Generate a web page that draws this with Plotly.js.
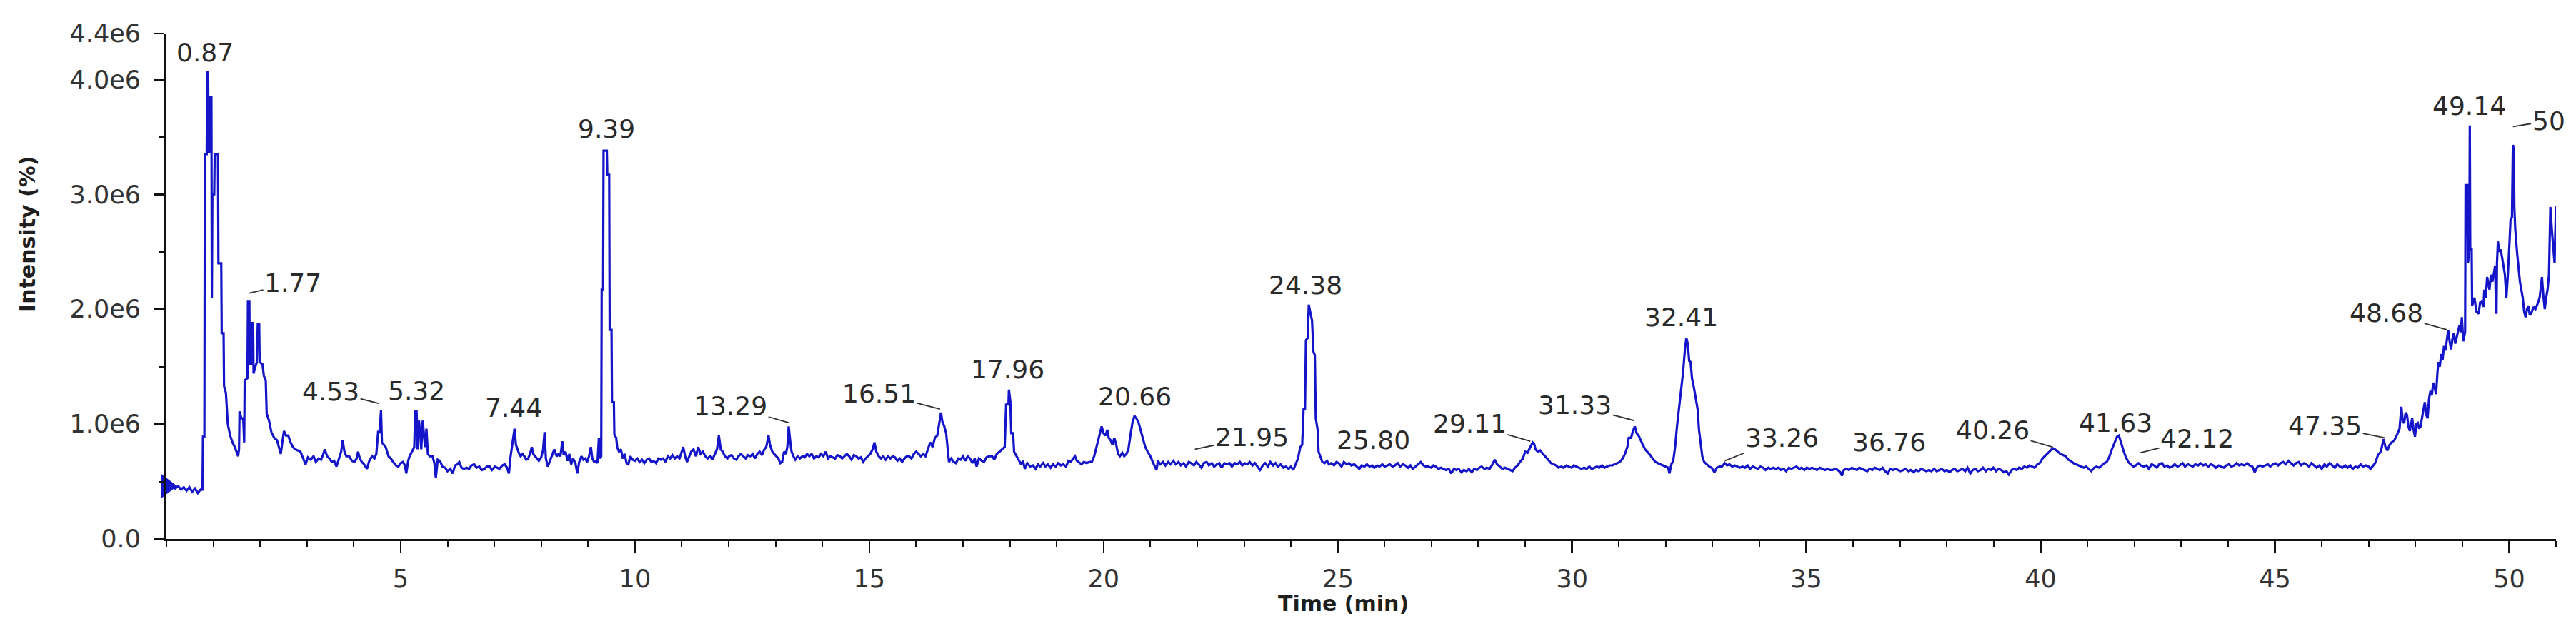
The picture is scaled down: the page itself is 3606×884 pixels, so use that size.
<!DOCTYPE html>
<html>
<head>
<meta charset="utf-8">
<script src="https://cdn.plot.ly/plotly-3.0.1.min.js"></script>
<style>
html,body{margin:0;padding:0;background:#fff}
#chart{width:3606px;height:884px}
</style>
</head>
<body>
<div id="chart"></div>
<script>
// chromatogram: [time (min), intensity (x1e6)]
let chromatogram = [
  [0.00,0.46],[0.07,0.45],[0.13,0.47],[0.19,0.44],[0.25,0.46],[0.31,0.43],[0.37,0.45],[0.43,0.42],[0.49,0.45],[0.55,0.41],[0.61,0.44],[0.67,0.40],[0.73,0.43],[0.77,0.43],[0.78,0.89],[0.81,0.89],[0.82,3.35],[0.86,3.35],[0.87,4.06],[0.89,4.06],[0.90,3.37],[0.92,3.37],[0.93,3.85],[0.96,3.85],[0.97,2.10],[0.98,3.00],
  [1.02,3.00],[1.03,3.35],[1.10,3.35],[1.11,2.40],[1.17,2.40],[1.18,1.79],[1.22,1.79],[1.23,1.33],[1.27,1.27],[1.31,1.00],[1.36,0.90],[1.41,0.84],[1.46,0.80],[1.50,0.76],[1.53,0.72],[1.55,0.78],[1.56,1.11],[1.60,1.05],[1.64,1.05],[1.66,0.84],[1.67,1.38],[1.73,1.40],[1.74,2.07],[1.77,2.07],[1.78,1.52],[1.81,1.52],[1.82,1.88],[1.85,1.88],[1.86,1.44],[1.90,1.50],[1.93,1.54],[1.95,1.87],[1.98,1.87],[1.99,1.54],
  [2.05,1.52],[2.08,1.42],[2.12,1.38],[2.14,1.09],[2.19,1.03],[2.24,0.93],[2.30,0.88],[2.36,0.86],[2.40,0.80],[2.44,0.74],[2.48,0.86],[2.51,0.94],[2.55,0.90],[2.60,0.90],[2.65,0.84],[2.70,0.80],[2.75,0.78],[2.80,0.77],[2.86,0.76],[2.92,0.70],[2.97,0.65],
  [3.02,0.71],[3.08,0.69],[3.14,0.72],[3.19,0.67],[3.25,0.70],[3.30,0.69],[3.35,0.74],[3.38,0.78],[3.43,0.72],[3.48,0.70],[3.53,0.67],[3.58,0.68],[3.63,0.63],[3.68,0.70],[3.73,0.76],[3.76,0.86],[3.80,0.76],[3.84,0.72],[3.90,0.72],[3.96,0.68],
  [4.01,0.67],[4.06,0.70],[4.09,0.76],[4.13,0.70],[4.17,0.67],[4.22,0.65],[4.28,0.61],[4.33,0.68],[4.39,0.72],[4.44,0.70],[4.48,0.74],[4.52,0.94],[4.55,0.92],[4.58,1.12],[4.60,0.84],[4.64,0.82],[4.68,0.80],[4.74,0.72],[4.79,0.70],[4.84,0.67],[4.90,0.64],[4.95,0.63],[5.00,0.66],
  [5.05,0.67],[5.09,0.64],[5.12,0.57],[5.16,0.68],[5.19,0.72],[5.24,0.76],[5.29,0.80],[5.31,1.11],[5.34,1.11],[5.36,0.78],[5.39,1.03],[5.42,0.90],[5.44,0.78],[5.47,1.03],[5.50,0.85],[5.52,0.80],[5.55,0.96],[5.58,0.74],[5.62,0.72],[5.68,0.72],[5.72,0.66],[5.75,0.53],[5.79,0.69],[5.84,0.68],[5.89,0.63],[5.95,0.62],
  [6.00,0.59],[6.06,0.61],[6.11,0.57],[6.16,0.64],[6.21,0.65],[6.25,0.67],[6.30,0.62],[6.35,0.61],[6.41,0.62],[6.46,0.61],[6.51,0.64],[6.57,0.65],[6.62,0.62],[6.68,0.63],[6.73,0.60],[6.79,0.61],[6.84,0.63],[6.90,0.63],[6.95,0.60],
  [7.01,0.63],[7.06,0.62],[7.11,0.61],[7.17,0.64],[7.22,0.65],[7.27,0.62],[7.31,0.57],[7.34,0.70],[7.37,0.78],[7.41,0.90],[7.43,0.96],[7.46,0.82],[7.49,0.78],[7.53,0.74],[7.56,0.72],[7.60,0.74],[7.64,0.72],[7.68,0.69],[7.72,0.70],[7.76,0.74],[7.80,0.80],[7.83,0.74],[7.87,0.72],[7.91,0.70],[7.95,0.68],
  [8.00,0.71],[8.04,0.78],[8.07,0.93],[8.10,0.70],[8.14,0.63],[8.19,0.68],[8.24,0.74],[8.28,0.78],[8.33,0.72],[8.37,0.74],[8.41,0.72],[8.45,0.85],[8.48,0.73],[8.52,0.76],[8.56,0.68],[8.60,0.74],[8.64,0.65],[8.68,0.70],[8.73,0.66],[8.77,0.57],[8.81,0.67],[8.86,0.72],[8.90,0.69],[8.94,0.70],[8.98,0.67],
  [9.02,0.72],[9.06,0.80],[9.09,0.70],[9.13,0.67],[9.17,0.68],[9.20,0.66],[9.23,0.88],[9.26,0.70],[9.28,0.72],[9.29,2.17],[9.32,2.17],[9.33,3.38],[9.40,3.38],[9.41,3.17],[9.45,3.17],[9.46,1.82],[9.50,1.82],[9.51,1.19],[9.55,1.19],[9.56,0.91],[9.60,0.88],[9.62,0.80],[9.66,0.76],[9.70,0.78],[9.74,0.70],[9.78,0.74],[9.82,0.66],[9.86,0.65],[9.90,0.72],[9.95,0.69],
  [10.00,0.68],[10.05,0.70],[10.10,0.67],[10.15,0.69],[10.20,0.66],[10.25,0.69],[10.30,0.70],[10.35,0.67],[10.40,0.68],[10.45,0.66],[10.50,0.70],[10.55,0.69],[10.60,0.70],[10.65,0.67],[10.70,0.72],[10.75,0.70],[10.80,0.73],[10.85,0.70],[10.90,0.72],[10.95,0.70],
  [11.00,0.76],[11.03,0.80],[11.07,0.72],[11.11,0.67],[11.16,0.72],[11.20,0.76],[11.25,0.78],[11.30,0.72],[11.35,0.80],[11.40,0.74],[11.45,0.76],[11.50,0.72],[11.55,0.70],[11.60,0.72],[11.65,0.69],[11.70,0.74],[11.75,0.78],[11.79,0.90],[11.83,0.78],[11.87,0.76],[11.92,0.72],[11.97,0.70],
  [12.01,0.72],[12.06,0.73],[12.11,0.70],[12.16,0.69],[12.21,0.72],[12.26,0.74],[12.31,0.72],[12.36,0.70],[12.41,0.73],[12.46,0.72],[12.51,0.74],[12.56,0.70],[12.61,0.74],[12.66,0.76],[12.71,0.73],[12.76,0.78],[12.80,0.80],[12.85,0.90],[12.88,0.82],[12.93,0.76],[12.97,0.74],
  [13.01,0.72],[13.06,0.70],[13.10,0.66],[13.14,0.67],[13.18,0.76],[13.22,0.74],[13.25,0.80],[13.28,0.98],[13.31,0.86],[13.34,0.76],[13.38,0.72],[13.42,0.69],[13.47,0.72],[13.52,0.70],[13.57,0.72],[13.62,0.71],[13.67,0.74],[13.72,0.72],[13.77,0.74],[13.82,0.70],[13.87,0.72],[13.92,0.71],[13.97,0.74],
  [14.02,0.72],[14.07,0.76],[14.12,0.70],[14.17,0.72],[14.22,0.71],[14.27,0.70],[14.32,0.73],[14.37,0.72],[14.42,0.70],[14.47,0.72],[14.52,0.74],[14.57,0.72],[14.62,0.69],[14.67,0.73],[14.72,0.72],[14.77,0.70],[14.82,0.71],[14.87,0.67],[14.92,0.70],[14.97,0.72],
  [15.02,0.74],[15.07,0.78],[15.11,0.84],[15.15,0.76],[15.20,0.72],[15.25,0.70],[15.30,0.72],[15.35,0.69],[15.40,0.72],[15.45,0.70],[15.50,0.72],[15.55,0.71],[15.60,0.68],[15.65,0.70],[15.70,0.67],[15.75,0.70],[15.80,0.72],[15.85,0.72],[15.90,0.70],[15.95,0.74],
  [16.00,0.76],[16.05,0.74],[16.10,0.72],[16.15,0.74],[16.20,0.72],[16.25,0.78],[16.30,0.84],[16.35,0.80],[16.40,0.88],[16.45,0.90],[16.50,1.02],[16.53,1.10],[16.56,1.02],[16.60,0.98],[16.64,0.92],[16.67,0.80],[16.70,0.67],[16.75,0.70],[16.80,0.67],[16.85,0.66],[16.90,0.70],[16.95,0.69],
  [17.00,0.72],[17.05,0.68],[17.10,0.72],[17.15,0.70],[17.20,0.66],[17.25,0.70],[17.29,0.63],[17.34,0.70],[17.40,0.68],[17.45,0.67],[17.50,0.71],[17.56,0.72],[17.62,0.72],[17.67,0.69],[17.72,0.74],[17.78,0.76],[17.84,0.78],[17.89,0.80],[17.92,1.17],[17.97,1.17],[17.98,1.30],
  [18.01,1.20],[18.03,0.92],[18.07,0.92],[18.09,0.76],[18.14,0.72],[18.18,0.69],[18.24,0.65],[18.28,0.68],[18.32,0.61],[18.37,0.66],[18.43,0.63],[18.49,0.64],[18.55,0.61],[18.60,0.65],[18.65,0.63],[18.71,0.66],[18.76,0.63],[18.81,0.65],[18.87,0.62],[18.92,0.65],[18.98,0.63],
  [19.03,0.66],[19.09,0.64],[19.14,0.65],[19.20,0.63],[19.25,0.68],[19.30,0.67],[19.35,0.70],[19.39,0.72],[19.43,0.68],[19.47,0.67],[19.53,0.65],[19.58,0.67],[19.64,0.66],[19.70,0.67],[19.75,0.67],[19.80,0.72],[19.85,0.80],[19.90,0.88],[19.96,0.98],
  [20.00,0.92],[20.04,0.90],[20.08,0.95],[20.11,0.88],[20.15,0.86],[20.19,0.82],[20.23,0.88],[20.27,0.82],[20.31,0.74],[20.35,0.72],[20.40,0.75],[20.44,0.72],[20.49,0.74],[20.53,0.78],[20.58,0.92],[20.62,1.02],[20.66,1.07],[20.70,1.05],[20.75,1.01],[20.80,0.94],[20.84,0.88],[20.89,0.80],[20.94,0.76],
  [21.00,0.72],[21.05,0.67],[21.10,0.63],[21.13,0.60],[21.16,0.68],[21.21,0.65],[21.27,0.67],[21.32,0.64],[21.38,0.67],[21.43,0.65],[21.49,0.68],[21.54,0.65],[21.60,0.67],[21.65,0.64],[21.71,0.66],[21.76,0.63],[21.82,0.67],[21.87,0.66],[21.93,0.64],[21.98,0.67],
  [22.03,0.65],[22.09,0.62],[22.14,0.66],[22.20,0.67],[22.25,0.64],[22.31,0.66],[22.36,0.63],[22.42,0.65],[22.47,0.66],[22.52,0.62],[22.58,0.66],[22.63,0.65],[22.69,0.66],[22.74,0.63],[22.80,0.66],[22.85,0.65],[22.91,0.67],[22.96,0.64],
  [23.01,0.66],[23.07,0.65],[23.12,0.67],[23.18,0.64],[23.23,0.66],[23.29,0.63],[23.34,0.60],[23.40,0.64],[23.45,0.66],[23.51,0.63],[23.56,0.67],[23.62,0.64],[23.67,0.66],[23.72,0.63],[23.78,0.65],[23.84,0.62],[23.89,0.63],[23.95,0.61],
  [24.00,0.63],[24.05,0.60],[24.10,0.65],[24.15,0.70],[24.20,0.80],[24.24,0.82],[24.27,1.13],[24.30,1.13],[24.32,1.73],[24.36,1.75],[24.38,2.04],[24.42,1.95],[24.45,1.90],[24.48,1.63],[24.51,1.60],[24.53,1.05],[24.57,0.95],[24.59,0.76],[24.63,0.72],[24.67,0.67],[24.72,0.66],[24.77,0.68],[24.81,0.65],[24.86,0.66],[24.92,0.64],[24.97,0.67],
  [25.02,0.66],[25.08,0.63],[25.13,0.67],[25.19,0.65],[25.24,0.66],[25.29,0.64],[25.35,0.65],[25.40,0.63],[25.46,0.61],[25.51,0.64],[25.57,0.63],[25.62,0.65],[25.68,0.63],[25.73,0.64],[25.78,0.62],[25.84,0.64],[25.89,0.63],[25.95,0.65],
  [26.00,0.63],[26.06,0.64],[26.11,0.65],[26.17,0.63],[26.22,0.64],[26.28,0.66],[26.33,0.63],[26.39,0.65],[26.44,0.64],[26.50,0.62],[26.55,0.64],[26.60,0.61],[26.66,0.63],[26.72,0.65],[26.77,0.67],[26.83,0.64],[26.88,0.63],[26.93,0.63],[26.99,0.62],
  [27.04,0.64],[27.09,0.63],[27.15,0.61],[27.20,0.62],[27.26,0.61],[27.31,0.60],[27.37,0.61],[27.42,0.57],[27.48,0.61],[27.53,0.60],[27.58,0.61],[27.64,0.58],[27.69,0.60],[27.75,0.59],[27.80,0.61],[27.86,0.58],[27.91,0.61],[27.97,0.60],
  [28.02,0.62],[28.07,0.63],[28.13,0.61],[28.18,0.62],[28.24,0.61],[28.29,0.64],[28.35,0.69],[28.40,0.65],[28.46,0.63],[28.51,0.61],[28.57,0.62],[28.62,0.61],[28.68,0.60],[28.73,0.59],[28.78,0.62],[28.84,0.64],[28.89,0.67],[28.95,0.70],
  [29.00,0.76],[29.05,0.75],[29.11,0.80],[29.16,0.84],[29.19,0.83],[29.22,0.78],[29.27,0.76],[29.32,0.77],[29.38,0.74],[29.43,0.72],[29.49,0.69],[29.55,0.66],[29.60,0.65],[29.66,0.64],[29.71,0.62],[29.77,0.63],[29.82,0.62],[29.88,0.64],[29.93,0.63],[29.99,0.62],
  [30.04,0.64],[30.09,0.63],[30.15,0.62],[30.20,0.61],[30.26,0.62],[30.31,0.61],[30.37,0.63],[30.42,0.61],[30.48,0.62],[30.53,0.63],[30.58,0.62],[30.64,0.64],[30.69,0.62],[30.75,0.63],[30.80,0.64],[30.86,0.64],[30.91,0.65],[30.97,0.66],
  [31.02,0.67],[31.08,0.70],[31.13,0.74],[31.18,0.80],[31.21,0.88],[31.26,0.88],[31.30,0.94],[31.34,0.98],[31.38,0.92],[31.42,0.90],[31.46,0.86],[31.51,0.82],[31.56,0.78],[31.61,0.76],[31.67,0.73],[31.72,0.70],[31.78,0.67],[31.83,0.66],[31.89,0.65],[31.94,0.64],
  [32.00,0.63],[32.05,0.62],[32.08,0.57],[32.12,0.65],[32.16,0.68],[32.20,0.80],[32.24,0.98],[32.28,1.12],[32.33,1.27],[32.37,1.45],[32.41,1.65],[32.44,1.75],[32.47,1.70],[32.50,1.55],[32.53,1.54],[32.56,1.40],[32.60,1.32],[32.64,1.22],[32.68,1.13],[32.71,0.95],[32.74,0.84],[32.78,0.72],[32.82,0.67],[32.87,0.65],[32.93,0.63],[32.98,0.62],
  [33.04,0.58],[33.09,0.62],[33.15,0.63],[33.20,0.63],[33.26,0.66],[33.31,0.64],[33.36,0.65],[33.42,0.63],[33.47,0.64],[33.53,0.63],[33.58,0.62],[33.64,0.63],[33.69,0.62],[33.75,0.64],[33.80,0.61],[33.86,0.63],[33.91,0.62],[33.97,0.61],
  [34.02,0.63],[34.08,0.62],[34.13,0.60],[34.19,0.62],[34.24,0.61],[34.30,0.62],[34.35,0.61],[34.41,0.62],[34.46,0.60],[34.52,0.61],[34.57,0.59],[34.63,0.62],[34.68,0.61],[34.74,0.62],[34.79,0.63],[34.85,0.61],[34.90,0.62],[34.96,0.60],
  [35.01,0.62],[35.07,0.61],[35.12,0.62],[35.18,0.61],[35.23,0.60],[35.29,0.62],[35.34,0.61],[35.40,0.60],[35.45,0.61],[35.51,0.60],[35.56,0.60],[35.62,0.61],[35.67,0.60],[35.73,0.58],[35.76,0.55],[35.80,0.60],[35.86,0.61],[35.91,0.60],[35.97,0.62],
  [36.02,0.61],[36.08,0.60],[36.13,0.62],[36.19,0.61],[36.24,0.60],[36.30,0.59],[36.35,0.61],[36.41,0.60],[36.46,0.62],[36.52,0.61],[36.57,0.60],[36.63,0.62],[36.68,0.59],[36.74,0.57],[36.79,0.61],[36.85,0.60],[36.90,0.61],[36.96,0.60],
  [37.01,0.59],[37.07,0.60],[37.12,0.61],[37.18,0.59],[37.23,0.60],[37.29,0.58],[37.34,0.60],[37.40,0.59],[37.45,0.61],[37.51,0.60],[37.56,0.59],[37.62,0.60],[37.67,0.59],[37.73,0.61],[37.78,0.59],[37.84,0.60],[37.89,0.61],[37.95,0.59],
  [38.00,0.60],[38.06,0.58],[38.11,0.60],[38.17,0.61],[38.22,0.59],[38.28,0.60],[38.33,0.61],[38.39,0.59],[38.44,0.62],[38.50,0.57],[38.55,0.60],[38.61,0.61],[38.66,0.59],[38.72,0.60],[38.77,0.62],[38.83,0.59],[38.88,0.61],[38.94,0.60],[38.99,0.62],
  [39.05,0.59],[39.10,0.61],[39.16,0.60],[39.21,0.58],[39.27,0.59],[39.32,0.56],[39.38,0.60],[39.43,0.61],[39.49,0.60],[39.54,0.62],[39.60,0.61],[39.65,0.63],[39.71,0.62],[39.76,0.64],[39.82,0.63],[39.87,0.62],[39.93,0.65],[39.98,0.66],
  [40.04,0.70],[40.09,0.72],[40.15,0.75],[40.20,0.77],[40.26,0.79],[40.31,0.78],[40.37,0.76],[40.42,0.74],[40.48,0.73],[40.53,0.72],[40.59,0.69],[40.64,0.68],[40.70,0.66],[40.75,0.65],[40.81,0.64],[40.86,0.63],[40.92,0.62],[40.97,0.63],
  [41.03,0.61],[41.08,0.59],[41.14,0.62],[41.19,0.63],[41.25,0.62],[41.30,0.64],[41.36,0.66],[41.41,0.67],[41.47,0.72],[41.52,0.78],[41.58,0.84],[41.63,0.89],[41.67,0.90],[41.71,0.84],[41.76,0.78],[41.81,0.72],[41.87,0.67],[41.92,0.65],[41.98,0.63],
  [42.03,0.64],[42.09,0.66],[42.14,0.64],[42.20,0.63],[42.26,0.64],[42.31,0.61],[42.37,0.65],[42.42,0.64],[42.48,0.62],[42.53,0.65],[42.59,0.66],[42.64,0.63],[42.70,0.64],[42.75,0.62],[42.81,0.63],[42.86,0.65],[42.92,0.63],[42.97,0.64],
  [43.03,0.66],[43.08,0.63],[43.14,0.65],[43.19,0.64],[43.25,0.63],[43.30,0.65],[43.36,0.64],[43.41,0.66],[43.47,0.64],[43.52,0.65],[43.58,0.63],[43.63,0.65],[43.69,0.64],[43.74,0.62],[43.80,0.64],[43.85,0.63],[43.91,0.62],[43.96,0.64],
  [44.02,0.65],[44.07,0.63],[44.13,0.64],[44.18,0.66],[44.24,0.64],[44.29,0.65],[44.35,0.64],[44.41,0.66],[44.46,0.64],[44.52,0.63],[44.57,0.58],[44.63,0.63],[44.68,0.64],[44.74,0.63],[44.79,0.64],[44.85,0.65],[44.90,0.63],[44.96,0.65],
  [45.01,0.66],[45.07,0.64],[45.12,0.66],[45.18,0.67],[45.23,0.65],[45.29,0.68],[45.34,0.66],[45.40,0.64],[45.45,0.66],[45.51,0.67],[45.56,0.64],[45.62,0.66],[45.67,0.65],[45.73,0.63],[45.78,0.66],[45.84,0.64],[45.89,0.62],[45.95,0.64],
  [46.00,0.61],[46.06,0.65],[46.11,0.63],[46.17,0.66],[46.22,0.64],[46.28,0.62],[46.33,0.65],[46.39,0.63],[46.44,0.62],[46.50,0.64],[46.55,0.62],[46.61,0.64],[46.66,0.61],[46.72,0.63],[46.77,0.62],[46.83,0.65],[46.88,0.63],[46.94,0.64],
  [47.00,0.63],[47.04,0.61],[47.08,0.63],[47.14,0.66],[47.20,0.73],[47.26,0.76],[47.32,0.87],[47.36,0.80],[47.40,0.77],[47.45,0.82],[47.49,0.84],[47.55,0.86],[47.61,0.91],[47.66,0.96],[47.70,1.15],[47.73,1.02],[47.76,1.01],[47.79,1.10],[47.82,1.08],[47.85,0.98],[47.88,0.94],[47.93,1.05],[47.96,0.95],[47.99,0.89],
  [48.02,1.00],[48.05,1.01],[48.08,0.96],[48.11,0.98],[48.16,1.10],[48.20,1.19],[48.23,1.08],[48.26,1.05],[48.29,1.22],[48.32,1.29],[48.35,1.25],[48.38,1.36],[48.41,1.32],[48.44,1.26],[48.47,1.45],[48.49,1.54],[48.52,1.50],[48.55,1.61],[48.58,1.56],[48.61,1.68],[48.64,1.64],[48.67,1.75],[48.70,1.82],[48.73,1.72],[48.76,1.65],[48.79,1.74],[48.82,1.79],[48.85,1.70],[48.88,1.75],[48.91,1.82],[48.94,1.86],[48.97,1.80],[48.99,1.93],
  [49.02,1.72],[49.06,1.80],[49.07,3.08],[49.11,3.08],[49.12,2.40],[49.15,2.52],[49.16,3.60],[49.17,2.52],[49.20,2.52],[49.21,2.03],[49.26,2.10],[49.30,1.98],[49.35,1.96],[49.38,2.06],[49.41,2.07],[49.45,2.02],[49.47,2.17],[49.50,2.10],[49.53,2.28],[49.56,2.20],[49.58,2.17],[49.61,2.30],[49.64,2.24],[49.67,2.30],[49.70,2.38],[49.72,2.00],[49.73,1.96],[49.74,2.40],[49.76,2.59],[49.79,2.50],[49.82,2.52],[49.85,2.45],[49.88,2.38],[49.91,2.30],[49.94,2.10],[49.97,2.28],
  [50.01,2.60],[50.03,2.78],[50.06,2.80],[50.08,3.43],[50.10,3.40],[50.11,2.90],[50.13,2.70],[50.17,2.49],[50.23,2.24],[50.29,2.10],[50.32,1.98],[50.35,1.93],[50.38,2.00],[50.41,2.03],[50.44,1.95],[50.47,1.96],[50.52,2.02],[50.56,2.00],[50.61,2.05],[50.65,2.10],[50.68,2.20],[50.70,2.28],[50.73,2.12],[50.76,2.00],[50.79,2.10],[50.82,2.17],[50.85,2.30],[50.87,2.75],[50.88,2.89],[50.91,2.70],[50.94,2.56],[50.97,2.40],[51.00,2.90]
];

// labelled peaks
let peakLabels = ['0.87','1.77','4.53','5.32','7.44','9.39','13.29','16.51','17.96','20.66','21.95','24.38','25.80','29.11','31.33','32.41','33.26','36.76','40.26','41.63','42.12','47.35','48.68','49.14','50'];
let peakTimes = [0.87,1.77,4.53,5.32,7.44,9.39,13.29,16.51,17.96,20.66,21.95,24.38,25.80,29.11,31.33,32.41,33.26,36.76,40.26,41.63,42.12,47.35,48.68,49.14,50.08];
let peakHeights = [4.06,2.14,1.18,1.11,0.96,3.38,1.01,1.13,1.30,1.07,0.78,2.04,0.65,0.85,1.03,1.75,0.68,0.65,0.80,0.90,0.75,0.88,1.82,3.60,3.59];

// axis ticks
let xTickVals = [5,10,15,20,25,30,35,40,45,50];
let yTickVals = [0,1,2,3,4,4.4];
let yTickText = ['0.0','1.0e6','2.0e6','3.0e6','4.0e6','4.4e6'];

// label placement (pixels from the peak) and whether a leader line is drawn
let labelOffsets = [[-3,-28],[61,-14],[-67,-17],[1,-29],[-2,-29],[0,-31],[-82,-24],[-85,-22],[0,-28],[0,-27],[80,-17],[-5,-27],[-3,-34],[-85,-25],[-83,-22],[-5,-29],[80,-32],[0,-31],[-84,-24],[-2,-18],[80,-20],[-84,-17],[-85,-24],[0,-27],[50,-8]];
let hasLeader = [false,true,true,false,false,false,true,true,false,false,true,false,false,true,true,false,true,false,true,false,true,true,true,false,true];

let time = chromatogram.map(p => p[0]);
let intensity = chromatogram.map(p => p[1]);

let traceColor = '#1414c8';
let textColor = '#2a2a2a';
let fontFam = 'DejaVu Sans, Liberation Sans, sans-serif';

let data = [
  {
    x: time,
    y: intensity,
    type: 'scatter',
    mode: 'lines',
    line: {color: traceColor, width: 3.2},
    hoverinfo: 'skip'
  },
  {
    x: [time[0]],
    y: [intensity[0]],
    type: 'scatter',
    mode: 'markers',
    marker: {symbol: 'triangle-right', size: 30, color: traceColor},
    cliponaxis: false,
    hoverinfo: 'skip'
  }
];

let notes = [];
for (let i = 0; i < peakLabels.length; i++) {
  let off = labelOffsets[i];
  let a = {
    x: peakTimes[i], y: peakHeights[i], xref: 'x', yref: 'y',
    text: peakLabels[i],
    font: {family: fontFam, size: 36, color: textColor}
  };
  if (hasLeader[i]) {
    a.showarrow = true;
    a.ax = off[0];
    a.ay = off[1];
    a.arrowhead = 0;
    a.arrowwidth = 1.8;
    a.arrowcolor = '#333';
    a.standoff = 0;
  } else {
    a.showarrow = false;
    a.xanchor = 'center';
    a.yanchor = 'middle';
    a.xshift = off[0];
    a.yshift = -off[1];
  }
  notes.push(a);
}

// axis titles
notes.push({
  xref: 'paper', yref: 'paper', x: -0.0583, y: 0.6045,
  text: '<b>Intensity (%)</b>', textangle: -90, showarrow: false,
  xanchor: 'center', yanchor: 'middle',
  font: {family: fontFam, size: 30, color: '#1e1e1e'}
});
notes.push({
  xref: 'paper', yref: 'paper', x: 0.4924, y: -0.1285,
  text: '<b>Time (min)</b>', showarrow: false,
  xanchor: 'center', yanchor: 'middle',
  font: {family: fontFam, size: 30, color: '#1e1e1e'}
});

let layout = {
  width: 3606,
  height: 884,
  margin: {l: 233, r: 28, t: 47, b: 129},
  paper_bgcolor: '#fff',
  plot_bgcolor: '#fff',
  showlegend: false,
  font: {family: fontFam, color: textColor},
  xaxis: {
    range: [0, 51],
    tickmode: 'array',
    tickvals: xTickVals,
    showline: true, linecolor: '#111', linewidth: 3,
    ticks: 'outside', ticklen: 17, tickwidth: 2.5, tickcolor: '#111',
    minor: {dtick: 1, tick0: 0, ticks: 'outside', ticklen: 8, tickwidth: 2, tickcolor: '#111'},
    showgrid: false, zeroline: false,
    tickfont: {family: fontFam, size: 35, color: '#333'},
    ticklabelstandoff: 6
  },
  yaxis: {
    range: [0, 4.4],
    tickmode: 'array',
    tickvals: yTickVals,
    ticktext: yTickText,
    showline: true, linecolor: '#111', linewidth: 3,
    ticks: 'outside', ticklen: 14, tickwidth: 2.5, tickcolor: '#111',
    minor: {dtick: 0.5, tick0: 0, ticks: 'outside', ticklen: 7, tickwidth: 2, tickcolor: '#111'},
    showgrid: false, zeroline: false,
    tickfont: {family: fontFam, size: 35, color: '#333'},
    ticklabelstandoff: 12
  },
  annotations: notes
};

Plotly.newPlot('chart', data, layout, {displayModeBar: false, staticPlot: true});
</script>
</body>
</html>
